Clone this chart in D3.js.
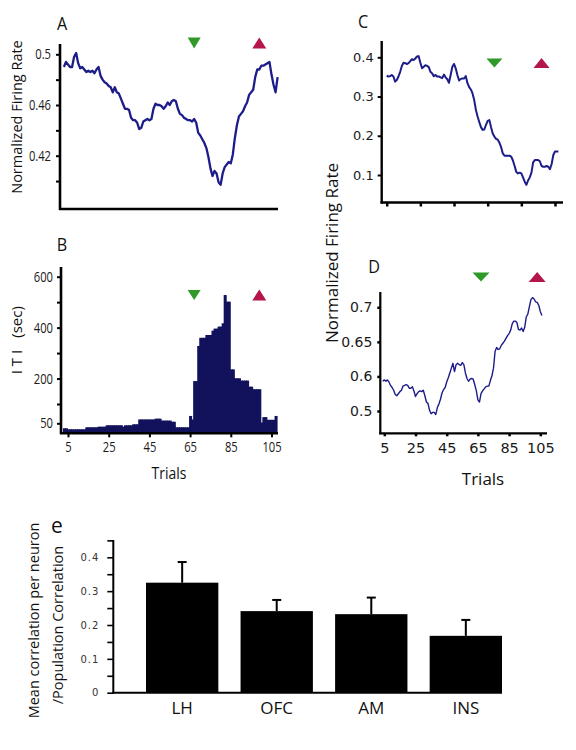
<!DOCTYPE html>
<html><head><meta charset="utf-8">
<script src="https://cdn.jsdelivr.net/npm/d3@7"></script>
<style>body{margin:0;background:#fff}svg{display:block}</style>
</head><body><svg id="c" width="576" height="750"></svg>
<script>
// ---------- DATA ----------
const trialTicks = [5, 25, 45, 65, 85, 105];

// Panel A: normalized firing rate, trials 3..108
const startA = 3;
const rateA = [0.490,0.494,0.492,0.490,0.490,0.498,0.501,0.493,0.489,0.490,
  0.488,0.486,0.487,0.486,0.487,0.485,0.488,0.490,0.483,0.480,
  0.478,0.477,0.475,0.474,0.470,0.474,0.470,0.469,0.465,0.461,
  0.457,0.457,0.456,0.450,0.448,0.448,0.446,0.441,0.442,0.447,
  0.448,0.449,0.448,0.449,0.457,0.461,0.460,0.460,0.459,0.457,
  0.459,0.462,0.460,0.463,0.464,0.463,0.457,0.453,0.452,0.450,
  0.449,0.448,0.448,0.447,0.449,0.446,0.438,0.436,0.433,0.430,
  0.426,0.419,0.410,0.404,0.408,0.406,0.399,0.397,0.406,0.411,
  0.413,0.415,0.414,0.421,0.434,0.444,0.451,0.453,0.455,0.459,
  0.462,0.468,0.470,0.472,0.482,0.488,0.488,0.491,0.491,0.492,
  0.493,0.494,0.484,0.476,0.470,0.482];
const ticksA = [0.42, 0.46, 0.5];
const tickLabelsA = ["0.42", "0.46", "0.5"];
const minorA = [0.40, 0.44, 0.48];

// Panel B: ITI (sec), trials 3..107
const startB = 3;
const itiB = [25,25,20,20,20,20,20,20,20,20,20,30,30,30,30,30,30,33,33,33,
  33,40,40,40,40,40,40,40,40,33,40,40,40,40,45,45,45,60,60,60,
  60,60,60,60,60,62,62,62,57,57,57,57,57,54,54,30,30,30,30,30,
  30,30,69,60,190,190,328,360,360,360,371,371,371,388,396,396,404,404,417,528,
  502,502,236,236,201,201,201,192,192,192,192,168,168,158,158,158,158,52,66,66,
  59,59,59,59,69];
const ticksB = [50, 200, 400, 600];
const minorB = [100, 300, 500];

// Panel C: normalized firing rate, trials 5..107
const startC = 5;
const rateC = [0.353,0.351,0.352,0.355,0.351,0.338,0.342,0.351,0.363,0.378,
  0.386,0.385,0.383,0.385,0.390,0.395,0.393,0.397,0.402,0.403,
  0.386,0.372,0.376,0.380,0.378,0.375,0.363,0.359,0.352,0.355,
  0.351,0.351,0.349,0.347,0.356,0.349,0.344,0.335,0.355,0.376,
  0.383,0.372,0.355,0.341,0.345,0.346,0.346,0.352,0.334,0.324,
  0.318,0.308,0.291,0.266,0.249,0.235,0.222,0.215,0.216,0.228,
  0.238,0.240,0.222,0.206,0.198,0.192,0.190,0.182,0.171,0.155,
  0.149,0.149,0.149,0.149,0.147,0.137,0.123,0.108,0.104,0.106,
  0.104,0.094,0.083,0.075,0.086,0.094,0.106,0.132,0.138,0.138,
  0.138,0.135,0.123,0.121,0.121,0.123,0.121,0.115,0.128,0.151,
  0.160,0.160,0.160];
const ticksC = [0.1, 0.2, 0.3, 0.4];

// Panel D: normalized firing rate, trials 4..106
const startD = 4;
const rateD = [0.593,0.595,0.593,0.595,0.592,0.587,0.584,0.580,0.574,0.572,
  0.575,0.578,0.580,0.586,0.587,0.588,0.587,0.583,0.583,0.585,
  0.579,0.571,0.575,0.578,0.579,0.578,0.580,0.572,0.563,0.561,
  0.551,0.546,0.548,0.548,0.545,0.555,0.560,0.567,0.576,0.581,
  0.584,0.592,0.598,0.605,0.612,0.619,0.607,0.617,0.619,0.617,
  0.616,0.620,0.617,0.605,0.597,0.593,0.596,0.597,0.596,0.588,
  0.579,0.566,0.563,0.575,0.579,0.582,0.585,0.586,0.586,0.594,
  0.601,0.612,0.636,0.642,0.639,0.640,0.645,0.648,0.651,0.655,
  0.659,0.662,0.667,0.676,0.680,0.680,0.678,0.668,0.667,0.670,
  0.665,0.671,0.686,0.690,0.701,0.711,0.714,0.712,0.708,0.707,
  0.703,0.694,0.688];
const ticksD = [0.55, 0.6, 0.65, 0.7];
const tickLabelsD = ["0.5", "0.6", "0.65", "0.7"];

// Marker trials (green down / red up)
const markersA = [67, 99];
const markersB = [67, 99];
const markersC = [69, 97];
const markersD = [67, 103];

// Panel e
const regions = ["LH", "OFC", "AM", "INS"];
const corrMean = [0.325, 0.241, 0.232, 0.168];
const corrErr = [0.061, 0.033, 0.049, 0.047];
const ticksE = [0, 0.1, 0.2, 0.3, 0.4];
const tickLabelsE = ["0", "0.1", "0.2", "0.3", "0.4"];
const minorE = [0.05, 0.15, 0.25, 0.35, 0.45];

// ---------- DRAW ----------
const svg = d3.select("#c");
const NAVY = "#1d1d8a";
const BARC = "#12125c";
const GREEN = "#2f9a2a";
const RED = "#b3154c";
const OS = "'Open Sans', sans-serif";
const DJ = "'DejaVu Sans', sans-serif";

function hline(x1, x2, y, w) {
  svg.append("line").attr("x1", x1).attr("x2", x2).attr("y1", y).attr("y2", y)
    .attr("stroke", "#000").attr("stroke-width", w);
}
function vline(x, y1, y2, w) {
  svg.append("line").attr("x1", x).attr("x2", x).attr("y1", y1).attr("y2", y2)
    .attr("stroke", "#000").attr("stroke-width", w);
}
function styleAxis(g, opt) {
  g.select(".domain").remove();
  g.selectAll(".tick line").attr("stroke", "#000").attr("stroke-width", opt.tw);
  g.selectAll(".tick text").attr("font-family", opt.font).attr("font-size", opt.size)
    .attr("fill", opt.fill || "#1a1a1a");
  if (opt.k) {
    g.selectAll(".tick text").each(function () {
      const x = +this.getAttribute("x") || 0;
      this.setAttribute("x", x / opt.k);
      this.setAttribute("transform", `scale(${opt.k},1)`);
    });
  }
  if (opt.ls) g.selectAll(".tick text").attr("letter-spacing", opt.ls);
}
function label(x, y, txt, o) {
  const g = svg.append("g").attr("transform", `translate(${x},${y}) rotate(${o.rot || 0})`);
  g.append("text").text(txt).attr("text-anchor", o.anchor || "middle")
    .attr("dominant-baseline", o.base || "central")
    .attr("font-family", o.font || OS).attr("font-size", o.size)
    .attr("fill", o.fill || "#111")
    .attr("font-weight", o.weight || "normal")
    .attr("transform", o.k ? `scale(${o.k},1)` : null);
}
function triangle(cx, cy, w, h, up, color) {
  const p = up
    ? [[cx - w / 2, cy + h / 2], [cx + w / 2, cy + h / 2], [cx, cy - h / 2]]
    : [[cx - w / 2, cy - h / 2], [cx + w / 2, cy - h / 2], [cx, cy + h / 2]];
  svg.append("path").attr("d", "M" + p.map(q => q.join(",")).join("L") + "Z").attr("fill", color);
}

// ===== Panel A =====
const xA = d3.scaleLinear().domain([5, 105]).range([68, 271.5]);
const yA = d3.scaleLinear().domain([0.42, 0.5]).range([155.7, 54.3]);
svg.append("path").datum(rateA)
  .attr("d", d3.line().x((d, i) => xA(startA + i)).y(d => yA(d)))
  .attr("fill", "none").attr("stroke", NAVY).attr("stroke-width", 2.3).attr("stroke-linejoin", "round");
vline(60, 44, 210, 2.6);
hline(59, 278, 209, 2.6);
styleAxis(svg.append("g").attr("transform", "translate(60,0)")
  .call(d3.axisLeft(yA).tickValues(ticksA).tickSize(4).tickPadding(5).tickFormat((d, i) => tickLabelsA[i])),
  { tw: 2, font: OS, size: 14, k: 0.8 });
styleAxis(svg.append("g").attr("transform", "translate(60,0)")
  .call(d3.axisLeft(yA).tickValues(minorA).tickSize(4).tickFormat("")), { tw: 2, font: OS, size: 12 });
label(62, 22, "A", { size: 19, k: 0.85 });
label(16, 117, "Normalized Firing Rate", { rot: -90, size: 14.5 });
triangle(xA(markersA[0]), 43, 13, 11, false, GREEN);
triangle(xA(markersA[1]), 43, 14, 11, true, RED);

// ===== Panel B =====
const xB = d3.scaleLinear().domain([5, 105]).range([68, 271.5]);
const yB = d3.scaleLinear().domain([0, 50, 100, 600]).range([433.3, 423.3, 404, 276.7]);
svg.append("g").selectAll("rect").data(itiB).join("rect")
  .attr("x", (d, i) => xB(startB + i - 0.5))
  .attr("width", (d, i) => xB(startB + i + 0.5) - xB(startB + i - 0.5) + 1)
  .attr("y", d => yB(d))
  .attr("height", d => yB(0) - yB(d))
  .attr("fill", BARC);
vline(61, 267, 434, 2.6);
hline(60, 278, 433.3, 2.6);
styleAxis(svg.append("g").attr("transform", "translate(61,0)")
  .call(d3.axisLeft(yB).tickValues(ticksB).tickSize(4).tickPadding(4)),
  { tw: 2, font: OS, size: 14, k: 0.8 });
styleAxis(svg.append("g").attr("transform", "translate(61,0)")
  .call(d3.axisLeft(yB).tickValues(minorB).tickSize(4).tickFormat("")), { tw: 2, font: OS, size: 12 });
styleAxis(svg.append("g").attr("transform", "translate(0,433.3)")
  .call(d3.axisBottom(xB).tickValues(trialTicks).tickSize(4).tickPadding(5)),
  { tw: 2, font: OS, size: 14, k: 0.8 });
label(62, 243, "B", { size: 19, k: 0.85 });
label(16, 362, "I T I", { rot: -90, size: 15 });
label(16, 322, "(sec)", { rot: -90, size: 15 });
label(169, 472, "Trials", { size: 17, k: 0.82 });
triangle(xB(markersB[0]), 295, 13, 10, false, GREEN);
triangle(xB(markersB[1]), 295, 14, 11, true, RED);

// ===== Panel C =====
const xC = d3.scaleLinear().domain([5, 105]).range([386.7, 555]);
const yC = d3.scaleLinear().domain([0.1, 0.4]).range([175, 57.3]);
svg.append("path").datum(rateC)
  .attr("d", d3.line().x((d, i) => xC(startC + i)).y(d => yC(d)))
  .attr("fill", "none").attr("stroke", NAVY).attr("stroke-width", 2).attr("stroke-linejoin", "round");
vline(381.7, 41, 203.5, 2.4);
hline(380.5, 563, 202.5, 2.4);
styleAxis(svg.append("g").attr("transform", "translate(381.7,0)")
  .call(d3.axisLeft(yC).tickValues(ticksC).tickSize(4).tickPadding(4).tickFormat(d3.format(".1f"))),
  { tw: 2, font: DJ, size: 13 });
styleAxis(svg.append("g").attr("transform", "translate(0,202.5)")
  .call(d3.axisBottom(xC).tickValues(trialTicks).tickSize(4).tickFormat("")), { tw: 2.5, font: DJ, size: 12 });
label(363, 20, "C", { size: 19, k: 0.85 });
label(331, 253, "Normalized Firing Rate", { rot: -90, size: 17 });
triangle(xC(markersC[0]), 63, 16, 9, false, GREEN);
triangle(xC(markersC[1]), 63, 16, 10, true, RED);

// ===== Panel D =====
const xD = d3.scaleLinear().domain([5, 105]).range([384.3, 540.3]);
const yD = d3.scaleLinear().domain([0.55, 0.7]).range([411, 307.3]);
svg.append("path").datum(rateD)
  .attr("d", d3.line().x((d, i) => xD(startD + i)).y(d => yD(d)))
  .attr("fill", "none").attr("stroke", NAVY).attr("stroke-width", 1.4).attr("stroke-linejoin", "round");
vline(380.3, 292, 434.3, 2.2);
hline(379.3, 547, 433.3, 2.2);
styleAxis(svg.append("g").attr("transform", "translate(380.3,0)")
  .call(d3.axisLeft(yD).tickValues(ticksD).tickSize(3).tickPadding(5).tickFormat((d, i) => tickLabelsD[i])),
  { tw: 2.5, font: DJ, size: 14 });
styleAxis(svg.append("g").attr("transform", "translate(0,433.3)")
  .call(d3.axisBottom(xD).tickValues(trialTicks).tickSize(3).tickPadding(6)),
  { tw: 2.5, font: DJ, size: 14.5 });
label(374, 265, "D", { size: 19, k: 0.85 });
label(483, 478, "Trials", { size: 17 });
triangle(xD(markersD[0]), 277, 17, 9, false, GREEN);
triangle(xD(markersD[1]), 277, 17, 10, true, RED);

// ===== Panel e =====
const xE = d3.scaleBand().domain(regions).range([146, 502]).paddingInner(0.235).paddingOuter(0);
const yE = d3.scaleLinear().domain([0, 0.4]).range([692.7, 557.3]);
const gE = svg.append("g");
gE.selectAll("line.err").data(regions).join("line").attr("class", "err")
  .attr("x1", d => xE(d) + xE.bandwidth() / 2).attr("x2", d => xE(d) + xE.bandwidth() / 2)
  .attr("y1", (d, i) => yE(corrMean[i])).attr("y2", (d, i) => yE(corrMean[i] + corrErr[i]))
  .attr("stroke", "#000").attr("stroke-width", 2);
gE.selectAll("line.cap").data(regions).join("line").attr("class", "cap")
  .attr("x1", d => xE(d) + xE.bandwidth() / 2 - 4.5).attr("x2", d => xE(d) + xE.bandwidth() / 2 + 4.5)
  .attr("y1", (d, i) => yE(corrMean[i] + corrErr[i])).attr("y2", (d, i) => yE(corrMean[i] + corrErr[i]))
  .attr("stroke", "#000").attr("stroke-width", 2);
gE.selectAll("rect").data(regions).join("rect")
  .attr("x", d => xE(d)).attr("width", xE.bandwidth())
  .attr("y", (d, i) => yE(corrMean[i])).attr("height", (d, i) => yE(0) - yE(corrMean[i]))
  .attr("fill", "#000");
vline(113.3, 540, 693.7, 2);
hline(112.3, 502, 692.7, 2);
styleAxis(svg.append("g").attr("transform", "translate(113.3,0)")
  .call(d3.axisLeft(yE).tickValues(ticksE).tickSize(6).tickPadding(8).tickFormat((d, i) => tickLabelsE[i])),
  { tw: 1.6, font: DJ, size: 10, fill: "#333", ls: 1 });
styleAxis(svg.append("g").attr("transform", "translate(113.3,0)")
  .call(d3.axisLeft(yE).tickValues(minorE).tickSize(6).tickFormat("")), { tw: 1.6, font: DJ, size: 9 });
svg.append("g").attr("transform", "translate(0,707)").selectAll("text").data(regions).join("text")
  .attr("x", d => xE(d) + xE.bandwidth() / 2).attr("text-anchor", "middle")
  .attr("dominant-baseline", "central").attr("font-family", OS).attr("font-size", 17)
  .attr("fill", "#111").text(d => d);
label(57, 525, "e", { size: 21 });
label(33, 620.5, "Mean correlation per neuron", { rot: -90, size: 14.5 });
label(57, 625, "/Population Correlation", { rot: -90, size: 14.5 });
</script></body></html>
